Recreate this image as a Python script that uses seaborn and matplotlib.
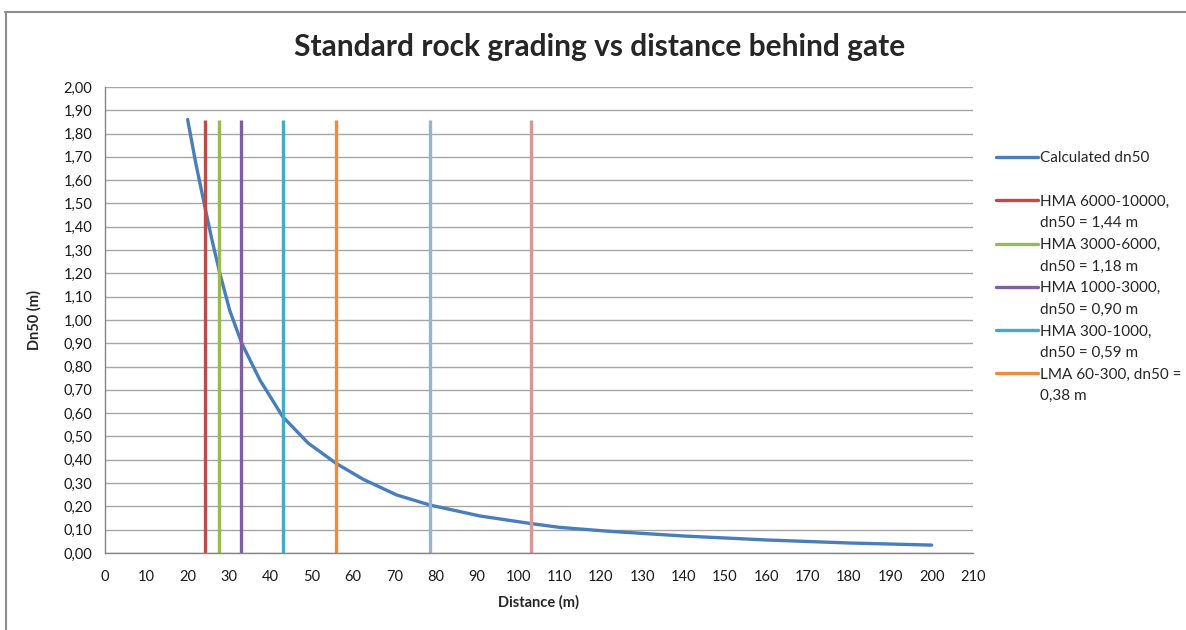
import matplotlib
matplotlib.use("Agg")
import matplotlib.pyplot as plt
from matplotlib.lines import Line2D
from matplotlib.ticker import FuncFormatter, MultipleLocator
import seaborn as sns
import pandas as pd

# curve
distance = [20, 22, 24, 25.8, 27.8, 30.2, 33.1, 37.5, 43, 49.2, 55.9, 62.5, 70.6, 78.6,
            90.7, 102.8, 110, 121.4, 140, 160, 180, 200]
dn50 = [1.86, 1.67, 1.50, 1.35, 1.20, 1.04, 0.90, 0.742, 0.585, 0.471, 0.385, 0.316, 0.249,
        0.206, 0.159, 0.127, 0.110, 0.094, 0.073, 0.056, 0.043, 0.034]

# vertical lines for the standard gradings
grading_x = [24.2, 27.6, 32.9, 43.0, 56.0, 78.6, 103.0]
grading_top = 1.86
grading_labels = ["HMA 6000-10000,\ndn50 = 1,44 m", "HMA 3000-6000,\ndn50 = 1,18 m",
                  "HMA 1000-3000,\ndn50 = 0,90 m", "HMA 300-1000,\ndn50 = 0,59 m",
                  "LMA 60-300, dn50 =\n0,38 m", None, None]
grading_colors = ["#BE4B48", "#98B954", "#7D60A0", "#46AAC5", "#F08A3C", "#95B3D7", "#D99694"]
curve_color = "#4A7EBB"

sns.set_style("white")
plt.rcParams['font.family'] = ['Lato', 'DejaVu Sans']

fig = plt.figure(figsize=(11.86, 6.30), dpi=100)
ax = fig.add_axes([0.0885, 0.1222, 0.7319, 0.7398])

df = pd.DataFrame({"Distance": distance, "dn50": dn50})
sns.lineplot(data=df, x="Distance", y="dn50", ax=ax, color=curve_color, lw=2.4,
             estimator=None, sort=True, legend=False)

for xv, col in zip(grading_x, grading_colors):
    ax.vlines(xv, 0, grading_top, colors=col, lw=2.4)

ax.set_xlim(0, 210)
ax.set_ylim(0, 2.0)
ax.xaxis.set_major_locator(MultipleLocator(10))
ax.yaxis.set_major_locator(MultipleLocator(0.1))
ax.yaxis.set_major_formatter(FuncFormatter(lambda v, p: f"{v:.2f}".replace(".", ",")))
ax.grid(axis="y", color="#A6A6A6", lw=1)
ax.set_axisbelow(True)
for s in ["top", "right"]:
    ax.spines[s].set_visible(False)
for s in ["left", "bottom"]:
    ax.spines[s].set_color("#868686")
    ax.spines[s].set_linewidth(1)
ax.tick_params(axis="both", direction="out", length=5, width=1, color="#868686",
               labelsize=10.5, labelcolor="#1a1a1a", pad=4)
ax.tick_params(axis="x", pad=7)
ax.set_xlabel("Distance (m)", fontsize=10.5, fontweight="bold", labelpad=8)
ax.set_ylabel("Dn50 (m)", fontsize=10.5, fontweight="bold", labelpad=16)

fig.text(0.506, 1 - 47 / 630, "Standard rock grading vs distance behind gate",
         ha="center", va="center", fontsize=21.5, fontweight="bold")

# legend: one row per text line, so the colour line sits next to the first line
blank = Line2D([], [], color="none")
handles = [Line2D([], [], color=curve_color, lw=2.4), blank]
labels = ["Calculated dn50", " "]
for lab, col in zip(grading_labels, grading_colors):
    if lab is None:
        continue
    first, second = lab.split("\n")
    handles += [Line2D([], [], color=col, lw=2.4), blank]
    labels += [first, second]
ax.legend(handles, labels, loc="upper left", bbox_to_anchor=(1.02, 0.875), frameon=False,
          fontsize=11, handlelength=2.7, handletextpad=0.15, labelspacing=0.5,
          borderaxespad=0)

# chart frame, cut off on the right and bottom
fig.add_artist(Line2D([0.004, 1.0], [1 - 12 / 630, 1 - 12 / 630], transform=fig.transFigure,
                      color="#8C8C8C", lw=1.5))
fig.add_artist(Line2D([0.005, 0.005], [0, 1 - 12 / 630], transform=fig.transFigure,
                      color="#8C8C8C", lw=1.5))

fig.savefig("out.png", dpi=100)
